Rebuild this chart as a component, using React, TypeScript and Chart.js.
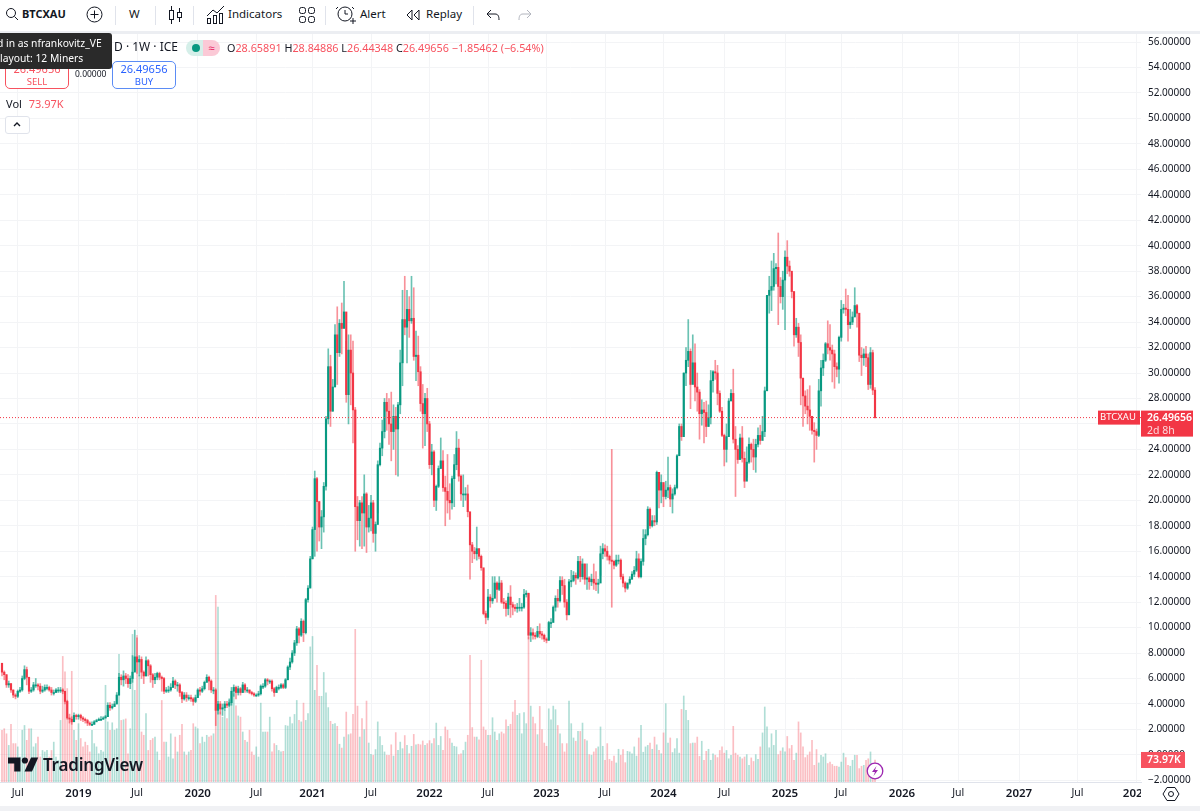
import React, { useEffect, useRef } from "react";
import { Chart, registerables } from "chart.js";

Chart.register(...registerables);

const FONT = "'Noto Sans', sans-serif";
const UP = "#089981";
const DOWN = "#f23645";

const firstOpen = 7.2;

const closes = [
  6.5,6.3,5.5,5.6,5.1,4.7,4.6,5.0,5.1,6.0,
  6.7,6.1,5.0,5.1,5.5,5.5,5.4,5.0,5.1,5.3,
  5.3,5.1,4.9,4.9,5.1,5.1,5.1,5.0,4.2,2.9,
  2.8,2.6,3.1,3.0,3.1,2.9,2.8,2.7,2.5,2.4,
  2.4,2.6,2.7,2.8,2.8,2.9,3.0,3.9,3.7,3.8,
  4.0,4.7,6.1,5.9,6.2,6.0,5.6,6.0,6.5,7.7,
  7.3,7.5,6.5,6.2,7.4,7.0,6.3,5.9,6.1,6.4,
  6.1,6.0,5.0,5.1,5.1,5.3,5.8,5.5,5.5,4.9,
  4.4,4.7,4.5,4.5,4.4,4.2,4.5,5.1,5.0,5.2,
  5.7,6.1,5.8,5.1,5.1,3.5,4.0,3.6,3.7,4.0,
  3.9,4.1,5.0,5.3,4.9,5.2,4.9,5.5,5.1,5.1,
  4.9,4.8,4.7,4.7,4.8,5.4,5.4,5.9,5.8,5.8,
  5.2,4.9,5.3,5.3,5.5,5.3,5.9,6.9,7.3,8.0,
  8.8,9.9,9.4,10.5,9.6,12.2,13.1,15.4,17.7,21.7,
  19.9,17.9,18.7,21.1,26.4,30.5,27.0,28.9,33.0,31.6,
  33.9,33.5,34.8,28.3,31.8,30.0,27.1,19.5,18.4,19.8,
  19.0,20.5,17.9,18.6,19.8,17.4,18.1,22.8,24.1,25.4,
  27.7,27.0,26.0,25.4,26.6,25.6,27.5,30.8,34.2,33.6,
  35.0,34.1,34.3,31.3,31.4,30.1,27.6,26.8,28.0,26.0,
  22.8,23.8,20.0,21.1,22.5,23.1,21.0,20.7,20.0,19.8,
  21.7,22.8,24.1,21.9,20.5,20.5,20.5,19.1,16.5,16.0,
  15.8,16.2,15.6,14.7,11.1,10.8,12.4,12.1,12.3,13.5,
  13.0,13.5,12.0,11.9,11.5,12.4,11.8,11.6,11.5,11.6,
  11.6,11.6,12.6,12.7,9.4,9.6,9.4,9.3,9.7,9.5,
  9.4,9.1,9.0,10.4,10.4,11.6,12.3,12.1,13.7,13.3,
  12.0,11.0,13.6,13.7,14.1,13.9,15.2,14.0,15.0,13.8,
  13.9,13.6,13.8,13.5,13.4,13.5,15.8,16.2,16.0,15.6,
  15.3,15.2,14.9,15.3,15.3,14.0,13.5,13.1,13.5,13.8,
  14.2,14.5,15.4,14.0,15.2,17.0,17.3,19.3,18.0,18.4,
  18.3,22.2,20.8,21.4,20.3,20.8,21.0,20.1,20.5,21.0,
  23.5,25.8,25.0,30.0,31.0,31.7,29.1,30.8,28.9,28.5,
  26.8,27.1,26.9,25.8,26.5,29.4,30.1,30.0,28.4,27.0,
  25.1,24.0,25.0,27.8,28.4,24.8,24.0,23.2,24.9,23.3,
  21.5,23.0,24.4,24.0,23.4,24.4,25.1,24.7,25.4,28.6,
  36.1,36.5,36.8,38.2,38.3,36.8,36.0,37.3,39.1,38.4,
  38.0,36.4,33.0,33.6,32.4,29.6,28.2,27.4,27.1,26.6,
  25.5,25.4,25.1,28.6,30.4,31.0,32.3,32.0,31.8,31.5,
  30.5,30.3,32.8,35.0,35.1,35.0,33.8,34.0,34.4,35.3,
  34.7,31.4,31.2,31.5,31.2,29.1,31.6,28.65891,26.49656,
];

const highs = [
  7.2,6.6,6.3,5.8,5.6,5.1,4.8,5.1,5.3,6.2,
  7.0,6.9,6.1,5.3,5.7,6.0,5.6,5.6,5.4,5.5,
  5.5,5.4,5.3,5.1,5.2,5.3,5.3,5.2,5.0,4.3,
  3.2,3.0,3.3,3.2,3.2,3.2,3.0,2.9,2.8,2.6,
  2.6,2.7,2.8,2.9,3.0,3.0,3.1,4.1,4.1,4.0,
  4.2,4.9,6.4,6.3,6.6,6.4,6.3,6.2,7.8,9.8,
  9.2,7.8,7.7,6.6,7.7,7.5,7.1,6.4,6.4,6.5,
  6.5,6.2,6.1,5.3,5.4,5.6,6.1,5.9,5.7,5.6,
  5.0,4.9,4.9,4.7,4.7,4.5,4.7,5.2,5.3,5.4,
  5.8,6.3,6.2,5.9,5.3,5.2,4.2,4.2,4.0,4.2,
  4.2,4.4,5.3,5.5,5.4,5.4,5.3,5.7,5.6,5.3,
  5.1,5.0,4.9,4.8,5.0,5.5,5.6,6.0,6.0,5.9,
  5.9,5.3,5.4,5.5,5.6,5.6,6.0,7.0,7.6,8.2,
  9.0,10.1,10.0,10.7,10.6,12.3,13.3,15.6,17.9,22.3,
  21.8,19.9,19.2,21.4,26.6,31.9,31.4,29.5,33.8,35.2,
  34.2,35.5,37.2,32.5,33.0,33.0,32.5,27.3,20.3,20.0,
  20.3,22.0,20.6,19.6,20.4,20.0,18.3,23.1,24.5,26.3,
  28.0,28.4,28.0,28.5,27.5,27.3,27.7,31.8,36.5,37.6,
  36.5,36.0,37.6,36.7,33.3,32.9,30.5,29.1,28.4,28.8,
  26.2,24.4,23.9,21.2,22.7,24.9,23.9,21.9,23.6,21.3,
  21.9,23.6,25.4,24.8,22.0,22.0,21.0,21.2,18.3,16.7,
  16.3,17.9,16.2,15.7,14.6,11.3,13.0,12.6,14.0,14.0,
  13.6,14.0,13.7,12.3,12.1,12.7,13.3,12.0,11.8,11.9,
  12.3,11.9,13.0,12.9,12.7,10.0,9.9,9.6,10.1,10.3,
  9.7,9.5,9.2,10.5,10.7,11.7,12.5,13.0,14.0,14.0,
  13.8,12.2,13.8,14.5,14.4,14.3,15.6,15.6,15.4,15.0,
  15.0,14.0,14.2,15.0,14.4,13.8,16.4,16.6,16.5,16.4,
  15.7,24.0,15.3,15.7,15.7,15.4,14.2,13.6,13.5,14.0,
  14.4,14.8,16.0,15.8,15.4,17.7,17.7,19.5,19.4,18.8,
  18.8,22.3,21.9,22.0,21.2,21.5,23.4,21.2,20.9,21.2,
  23.6,26.0,26.0,30.0,32.0,34.2,31.9,33.0,32.3,30.0,
  28.7,27.9,27.7,27.8,27.5,30.2,30.2,31.0,30.6,28.6,
  27.3,25.2,26.0,28.0,28.7,30.3,25.8,24.3,25.2,25.8,
  23.8,24.2,24.9,24.5,24.8,24.8,25.7,25.9,26.6,28.9,
  36.1,37.6,38.8,39.4,38.6,41.0,37.5,38.0,39.6,40.4,
  38.8,37.8,36.4,34.3,33.9,33.0,29.4,28.6,28.7,29.0,
  26.6,26.1,25.6,29.5,31.0,31.5,32.4,34.1,33.8,32.2,
  31.8,30.8,32.9,35.7,35.4,36.6,36.1,35.0,34.8,36.7,
  35.4,34.4,32.0,31.9,32.1,31.5,32.0,31.8,28.84886,
];

const lows = [
  6.2,5.9,5.3,5.3,4.9,4.5,4.4,4.5,4.9,5.0,
  5.9,5.5,4.8,4.9,5.0,5.3,5.1,4.8,4.9,5.0,
  5.1,5.0,4.7,4.7,4.9,4.9,4.9,4.8,4.0,2.8,
  2.5,2.4,2.6,2.8,2.8,2.7,2.6,2.5,2.3,2.3,
  2.3,2.4,2.6,2.7,2.7,2.8,2.9,3.0,3.5,3.6,
  3.8,4.0,4.7,5.5,5.4,5.6,5.3,5.2,5.7,6.6,
  6.4,6.2,6.0,5.6,6.2,6.2,5.7,5.3,5.6,5.9,
  5.9,5.0,4.8,4.9,4.9,5.0,5.3,5.2,5.0,4.6,
  4.1,4.3,4.2,4.3,4.2,3.9,4.1,4.5,4.7,4.9,
  5.1,5.7,5.1,4.9,4.8,2.3,3.2,3.2,3.1,3.5,
  3.7,3.8,3.9,4.6,4.4,4.7,4.7,4.9,4.9,4.9,
  4.8,4.7,4.6,4.6,4.6,4.7,5.2,5.3,5.5,5.6,
  5.0,4.6,4.9,5.1,5.2,5.2,5.2,5.9,6.7,7.2,
  7.8,8.6,8.8,9.3,8.9,9.5,12.0,13.2,15.4,15.6,
  16.0,16.8,16.2,17.5,20.8,26.0,25.8,27.0,29.5,29.1,
  31.3,31.5,33.9,27.7,26.0,27.5,24.5,16.0,16.9,16.4,
  16.2,16.4,15.9,17.5,17.6,16.7,16.0,19.0,22.7,23.5,
  24.9,25.5,24.4,23.1,24.0,22.0,21.9,26.8,29.0,33.0,
  30.8,32.8,33.9,31.0,29.4,29.0,27.0,24.1,24.3,25.4,
  22.5,22.0,19.5,19.2,21.0,22.5,20.7,18.0,19.0,18.5,
  19.3,19.5,22.4,21.5,20.0,19.5,20.0,18.7,13.8,15.1,
  15.4,15.3,15.4,14.5,11.0,10.3,10.6,11.6,11.9,12.6,
  12.0,12.9,11.9,11.5,10.9,11.0,10.8,11.0,11.3,11.2,
  11.3,11.3,11.5,12.4,9.1,8.9,9.1,9.1,9.2,9.2,
  9.1,8.9,8.8,9.0,10.0,10.8,11.3,11.6,12.0,12.6,
  11.6,10.6,11.4,13.2,13.6,13.4,13.8,13.6,13.8,13.4,
  13.0,13.0,13.3,13.0,12.9,12.7,14.1,15.4,15.6,15.3,
  15.0,11.6,14.6,14.8,15.0,13.8,13.2,12.8,13.0,13.4,
  13.8,14.0,14.4,13.9,13.9,14.9,16.5,17.2,17.8,17.9,
  18.0,18.1,19.4,19.8,19.5,20.1,20.2,19.5,19.0,20.4,
  20.9,24.8,24.7,25.2,29.0,30.5,27.2,30.3,27.8,27.0,
  24.8,25.9,24.5,25.0,25.8,26.0,28.5,29.5,27.5,26.9,
  25.0,22.7,23.0,25.0,27.9,24.5,20.3,22.9,23.3,23.0,
  21.0,21.8,22.9,23.0,22.4,22.2,24.2,24.4,25.0,25.0,
  29.7,34.7,34.9,36.5,37.0,33.8,35.5,35.0,33.4,37.8,
  37.6,35.9,32.1,32.8,31.3,27.5,25.8,26.8,26.0,25.5,
  25.2,23.0,24.0,25.0,27.4,29.8,30.9,31.5,31.0,29.3,
  28.8,29.7,29.2,32.5,34.7,34.5,32.5,33.5,33.8,34.5,
  33.6,30.9,29.8,30.6,30.5,28.7,28.8,28.3,26.44348,
];

// weekly volume, in thousands
const volumes = [
  174,179,162,123,194,129,129,118,84,174,
  190,140,179,179,118,129,151,84,106,101,
  106,84,106,134,84,73,207,422,370,314,
  207,372,174,140,196,146,118,134,123,101,
  174,129,118,95,106,101,325,202,174,199,
  174,179,429,207,209,212,95,179,496,308,
  493,358,168,157,230,106,140,146,151,101,
  73,274,134,134,84,162,78,151,101,157,
  194,101,90,101,106,196,185,179,129,151,
  134,157,151,155,162,627,588,235,218,241,
  213,274,297,297,256,222,218,168,140,134,
  174,101,90,118,84,265,168,168,168,218,
  101,129,123,106,101,103,190,188,218,196,
  227,274,207,202,265,207,230,454,489,308,
  392,288,288,368,300,250,
  204,194,196,187,127,114,151,235,159,162,
  227,513,255,151,213,176,272,131,93,90,
  109,202,153,123,101,90,90,125,87,166,
  106,134,112,156,123,95,120,160,125,127,
  125,138,123,129,139,129,146,198,123,153,
  106,185,174,146,131,120,118,92,95,106,
  134,157,426,183,151,151,142,409,185,174,
  157,157,216,168,140,162,168,162,209,187,
  194,235,274,224,230,162,233,196,487,255,
  218,196,159,254,176,131,120,246,209,255,
  243,190,162,129,101,129,272,196,148,137,
  170,170,198,143,138,92,90,101,112,118,
  185,120,73,129,76,70,87,64,110,90,
  109,65,103,101,95,118,87,148,190,100,
  118,123,131,110,151,125,
  106,95,165,263,131,148,99,112,146,97,
  244,289,241,207,129,131,131,151,86,137,
  73,103,110,73,95,90,82,106,118,97,
  106,78,90,187,97,90,84,78,84,92,
  56,81,69,92,76,118,165,252,185,115,
  162,123,174,92,104,115,101,153,112,123,
  73,97,202,165,118,82,90,101,140,56,
  109,64,90,84,95,62,67,59,53,53,
  50,67,97,82,56,53,73,90,90,45,
  53,56,73,78,101,62,73.97,
];

const opens = closes.map((_, i) => (i === 0 ? firstOpen : closes[i - 1]));
const lastClose = closes[closes.length - 1];
const lastVolume = volumes[volumes.length - 1];

// week number of each time label
const timeTickWeeks = [7, 34, 60, 87, 113, 138, 164, 190, 216, 242, 268, 294, 321, 348, 373, 400, 425, 452, 478, 504];
const timeTickLabels = ["Jul", "2019", "Jul", "2020", "Jul", "2021", "Jul", "2022", "Jul", "2023", "Jul", "2024", "Jul", "2025", "Jul", "2026", "Jul", "2027", "Jul", "2028"];
const priceTicks = [-2, 0, 2, 4, 6, 8, 10, 12, 14, 16, 18, 20, 22, 24, 26, 28, 30, 32, 34, 36, 38, 40, 42, 44, 46, 48, 50, 52, 54, 56];

const WEEK_MIN = -0.889;
const WEEK_MAX = 506.22;

const priceTags = {
  id: "priceTags",
  afterDraw(chart: any) {
    const { ctx } = chart;
    const top = chart.scales.y.getPixelForValue(lastClose);
    const volTop = chart.scales.vol.getPixelForValue(lastVolume);
    ctx.save();
    ctx.textBaseline = "middle";
    ctx.fillStyle = DOWN;
    ctx.fillRect(1098, top - 7, 42, 14);
    ctx.fillRect(1141, top - 7, 52, 26);
    ctx.fillStyle = "#fff";
    ctx.font = `9.5px ${FONT}`;
    ctx.fillText("BTCXAU", 1100, top);
    ctx.font = `600 10.5px ${FONT}`;
    ctx.fillText(lastClose.toFixed(5), 1147, top);
    ctx.font = `10.5px ${FONT}`;
    ctx.fillStyle = "#fcd9dc";
    ctx.fillText("2d 8h", 1147, top + 13);
    ctx.fillStyle = "#f7525f";
    ctx.fillRect(1141, volTop - 8, 44, 16);
    ctx.fillStyle = "#fff";
    ctx.font = `600 10.5px ${FONT}`;
    ctx.fillText(`${lastVolume}K`, 1147, volTop);
    ctx.restore();
  },
};

const PriceChart: React.FC = () => {
  const canvasRef = useRef<HTMLCanvasElement | null>(null);

  useEffect(() => {
    if (!canvasRef.current) return;
    const chart = new Chart(canvasRef.current, {
      type: "bar",
      data: {
        datasets: [
          {
            type: "line",
            data: [
              { x: WEEK_MIN, y: lastClose },
              { x: WEEK_MAX, y: lastClose },
            ],
            borderColor: DOWN,
            borderWidth: 1,
            borderDash: [1, 2],
            pointRadius: 0,
            order: 1,
          },
          {
            data: closes.map((c, i) => ({ x: i, y: [opens[i], c] })),
            backgroundColor: closes.map((c, i) => (c >= opens[i] ? UP : DOWN)),
            barThickness: 1.5,
            minBarLength: 1,
            grouped: false,
            order: 2,
          },
          {
            data: closes.map((_, i) => ({ x: i, y: [lows[i], highs[i]] })),
            backgroundColor: closes.map((c, i) =>
              c >= opens[i] ? "rgba(8,153,129,0.6)" : "rgba(242,54,69,0.55)"
            ),
            barThickness: 1,
            grouped: false,
            order: 3,
          },
          {
            data: volumes.map((v, i) => ({ x: i, y: v })),
            yAxisID: "vol",
            backgroundColor: closes.map((c, i) =>
              c >= opens[i] ? "rgba(8,153,129,0.32)" : "rgba(242,54,69,0.32)"
            ),
            barThickness: 1,
            grouped: false,
            order: 4,
          },
        ] as any,
      },
      options: {
        responsive: false,
        animation: false,
        events: [],
        layout: { padding: { top: 32, bottom: 7, left: 0, right: 0 } },
        plugins: { legend: { display: false }, tooltip: { enabled: false } },
        scales: {
          x: {
            type: "linear",
            offset: false,
            min: WEEK_MIN,
            max: WEEK_MAX,
            afterBuildTicks: (scale: any) => {
              scale.ticks = timeTickWeeks.map((value) => ({ value }));
            },
            afterFit: (scale: any) => {
              scale.height = 22;
            },
            grid: { color: "#f3f4f6", drawTicks: false, offset: false },
            border: { color: "#e0e3eb" },
            ticks: {
              autoSkip: false,
              maxRotation: 0,
              padding: 5,
              color: "#131722",
              font: (ctx: any) => {
                const isYear = timeTickWeeks.indexOf(ctx.tick?.value) % 2 === 1;
                return { family: FONT, size: isYear ? 11.5 : 10.5, weight: isYear ? 600 : 400 };
              },
              callback: (value: any) => timeTickLabels[timeTickWeeks.indexOf(value)],
            },
          },
          y: {
            position: "right",
            min: -2.13,
            max: 56.79,
            afterBuildTicks: (scale: any) => {
              scale.ticks = priceTicks.map((value) => ({ value }));
            },
            afterFit: (scale: any) => {
              scale.width = 59;
            },
            grid: { color: "#f3f4f6", drawTicks: false },
            border: { display: false },
            ticks: {
              padding: 7,
              color: "#131722",
              font: { family: FONT, size: 10 },
              callback: (value: any) => Number(value).toFixed(5).replace("-", "\u2212"),
            },
          },
          vol: { display: false, min: 0, max: 2520 },
        },
      },
      plugins: [priceTags],
    } as any);
    return () => chart.destroy();
  }, []);

  return <canvas ref={canvasRef} width={1200} height={811} style={{ display: "block" }} />;
};

const Abs: React.FC<{ x: number; y: number; style?: React.CSSProperties; children?: React.ReactNode }> = ({ x, y, style, children }) => (
  <div style={{ position: "absolute", left: x, top: y, whiteSpace: "nowrap", ...style }}>{children}</div>
);

const Icon: React.FC<{ x: number; y: number; w?: number; h?: number; children: React.ReactNode }> = ({ x, y, w = 22, h = 22, children }) => (
  <svg
    width={w}
    height={h}
    viewBox={`0 0 ${w} ${h}`}
    fill="none"
    stroke="#131722"
    strokeWidth={1}
    style={{ position: "absolute", left: x, top: y }}
  >
    {children}
  </svg>
);

const App: React.FC = () => {
  const tool: React.CSSProperties = { fontSize: 11.5, color: "#131722", lineHeight: "16px" };
  const red = "#f7525f";
  return (
    <div style={{ position: "fixed", left: 0, top: 0, width: 1200, height: 811, overflow: "hidden", background: "#fff", fontFamily: FONT }}>
      <PriceChart />

      {/* toolbar */}
      <div style={{ position: "absolute", left: 0, top: 0, width: 1200, height: 31, background: "#fff", borderBottom: "3px solid #eceef2" }} />
      <Icon x={3} y={5}>
        <circle cx="8" cy="8" r="4.5" />
        <path d="M11.5 11.5 L15 15" />
      </Icon>
      <Abs x={22} y={6} style={{ ...tool, fontWeight: 700, fontSize: 11 }}>BTCXAU</Abs>
      <Icon x={84} y={4}>
        <circle cx="10.5" cy="10.5" r="7.5" />
        <path d="M10.5 6.5 V14.5 M6.5 10.5 H14.5" />
      </Icon>
      <Abs x={129} y={6} style={tool}>W</Abs>
      <Icon x={166} y={4}>
        <rect x="3.5" y="6.5" width="4" height="9" />
        <path d="M5.5 2 V6.5 M5.5 15.5 V20" />
        <rect x="11.5" y="8.5" width="4" height="5" />
        <path d="M13.5 4 V8.5 M13.5 13.5 V18" />
      </Icon>
      <Icon x={205} y={3}>
        <path d="M2 13 L8 7 L12 10 L19 3" />
        <rect x="2.5" y="15.5" width="3" height="5" />
        <rect x="8.5" y="12.5" width="3" height="8" />
        <rect x="14.5" y="10.5" width="3" height="10" />
      </Icon>
      <Abs x={228} y={6} style={tool}>Indicators</Abs>
      <Icon x={296} y={4}>
        <rect x="3.5" y="3.5" width="6" height="6" rx="2" />
        <rect x="12.5" y="3.5" width="6" height="6" rx="2" />
        <rect x="3.5" y="12.5" width="6" height="6" rx="2" />
        <rect x="12.5" y="12.5" width="6" height="6" rx="2" />
      </Icon>
      <Icon x={335} y={4}>
        <circle cx="10" cy="10" r="7" />
        <path d="M10 6 V10 H13 M3 3 L1 5 M17 3 L19 5 M15 17 H21 M18 14 V20" />
      </Icon>
      <Abs x={360} y={6} style={tool}>Alert</Abs>
      <Icon x={402} y={4}>
        <path d="M10 6 L5 11 L10 16 Z M17 6 L12 11 L17 16 Z" />
      </Icon>
      <Abs x={426} y={6} style={tool}>Replay</Abs>
      <Icon x={482} y={4}>
        <path d="M9 6 L5 10 L9 14 M5 10 H13 C16 10 17 12 17 16" />
      </Icon>
      <Icon x={514} y={4}>
        <g stroke="#b2b5be">
          <path d="M13 6 L17 10 L13 14 M17 10 H9 C6 10 5 12 5 16" />
        </g>
      </Icon>
      {[115, 155, 193, 325, 473].map((x) => (
        <div key={x} style={{ position: "absolute", left: x, top: 6, width: 1, height: 19, background: "#e0e3eb" }} />
      ))}

      {/* legend */}
      <Abs x={114} y={39} style={{ fontSize: 12, color: "#131722", lineHeight: "16px" }}>D · 1W · ICE</Abs>
      <div style={{ position: "absolute", left: 186, top: 40, width: 34, height: 16, borderRadius: 8, overflow: "hidden", display: "flex" }}>
        <div style={{ flex: 1, background: "#d5efe9", position: "relative" }}>
          <div style={{ position: "absolute", left: 6, top: 4, width: 8, height: 8, borderRadius: 4, background: UP }} />
        </div>
        <div style={{ flex: 1, background: "#fbc9d6", color: "#e91e63", fontSize: 11, lineHeight: "15px", textAlign: "center" }}>≈</div>
      </div>
      <Abs x={227} y={40} style={{ fontSize: 10.8, color: red, lineHeight: "15px" }}>
        <span style={{ color: "#131722" }}>O</span>28.65891{" "}
        <span style={{ color: "#131722" }}>H</span>28.84886{" "}
        <span style={{ color: "#131722" }}>L</span>26.44348{" "}
        <span style={{ color: "#131722" }}>C</span>26.49656 {"\u2212"}1.85462 ({"\u2212"}6.54%)
      </Abs>

      {/* buy / sell */}
      <div style={{ position: "absolute", left: 5, top: 61, width: 62, height: 26, border: `1px solid ${red}`, borderRadius: 5, background: "#fff", color: red, textAlign: "center", fontSize: 9.5, lineHeight: "13px" }}>
        <div style={{ fontSize: 11 }}>26.49656</div>
        <div>SELL</div>
      </div>
      <Abs x={75} y={68} style={{ fontSize: 8.5, color: "#131722" }}>0.00000</Abs>
      <div style={{ position: "absolute", left: 112, top: 61, width: 62, height: 26, border: "1px solid #5b8cf5", borderRadius: 5, background: "#fff", color: "#2962ff", textAlign: "center", fontSize: 9.5, lineHeight: "13px" }}>
        <div style={{ fontSize: 11 }}>26.49656</div>
        <div>BUY</div>
      </div>
      <Abs x={6} y={96} style={{ fontSize: 11, color: "#131722", lineHeight: "15px" }}>
        Vol <span style={{ color: red, marginLeft: 4 }}>73.97K</span>
      </Abs>
      <div style={{ position: "absolute", left: 5, top: 116, width: 23, height: 16, border: "1px solid #e0e3eb", borderRadius: 3, background: "#fff" }} />
      <Icon x={8} y={116} w={18} h={18}>
        <path d="M6 10 L9 7 L12 10" strokeWidth={1.4} />
      </Icon>

      {/* tooltip */}
      <div style={{ position: "absolute", left: 0, top: 33, width: 112, height: 36, background: "#2a2a2a", borderRadius: "0 3px 3px 0", color: "#fff", fontSize: 10.3, lineHeight: "15px", overflow: "hidden" }}>
        <div style={{ position: "absolute", left: -3, top: 3, whiteSpace: "nowrap" }}>d in as nfrankovitz_VE</div>
        <div style={{ position: "absolute", left: 0, top: 18, whiteSpace: "nowrap" }}>layout: 12 Miners</div>
      </div>

      {/* logo */}
      <svg width="32" height="15" viewBox="0 0 36 16" style={{ position: "absolute", left: 8, top: 757 }}>
        <path d="M0 0 H14 V16 H7 V7 H0 Z" fill="#131722" />
        <circle cx="19" cy="3.5" r="3.5" fill="#131722" />
        <path d="M26 0 H34 L27 16 H18.5 Z" fill="#131722" />
      </svg>
      <Abs x={43} y={752} style={{ fontSize: 17, fontWeight: 600, color: "#131722", lineHeight: "25px", letterSpacing: -0.2 }}>TradingView</Abs>

      {/* lightning */}
      <svg width="18" height="18" viewBox="0 0 18 18" style={{ position: "absolute", left: 866, top: 762 }}>
        <circle cx="9" cy="9" r="7.8" fill="#fff" stroke="#9c27b0" strokeWidth="1.3" />
        <path d="M10.5 4 L6 10 H9 L7.5 14 L12 8 H9 Z" fill="#9c27b0" />
      </svg>

      {/* bottom right corner */}
      <div style={{ position: "absolute", left: 1141, top: 783, width: 59, height: 23, background: "#fff" }} />
      <svg width="20" height="20" viewBox="0 0 20 20" fill="none" stroke="#131722" style={{ position: "absolute", left: 1161, top: 784 }}>
        <path d="M6 3.5 H14 L18 10 L14 16.5 H6 L2 10 Z" />
        <circle cx="10" cy="10" r="2.5" />
      </svg>
      <div style={{ position: "absolute", left: 0, top: 806, width: 1200, height: 5, background: "#f0f1f4" }} />
    </div>
  );
};

export default App;
